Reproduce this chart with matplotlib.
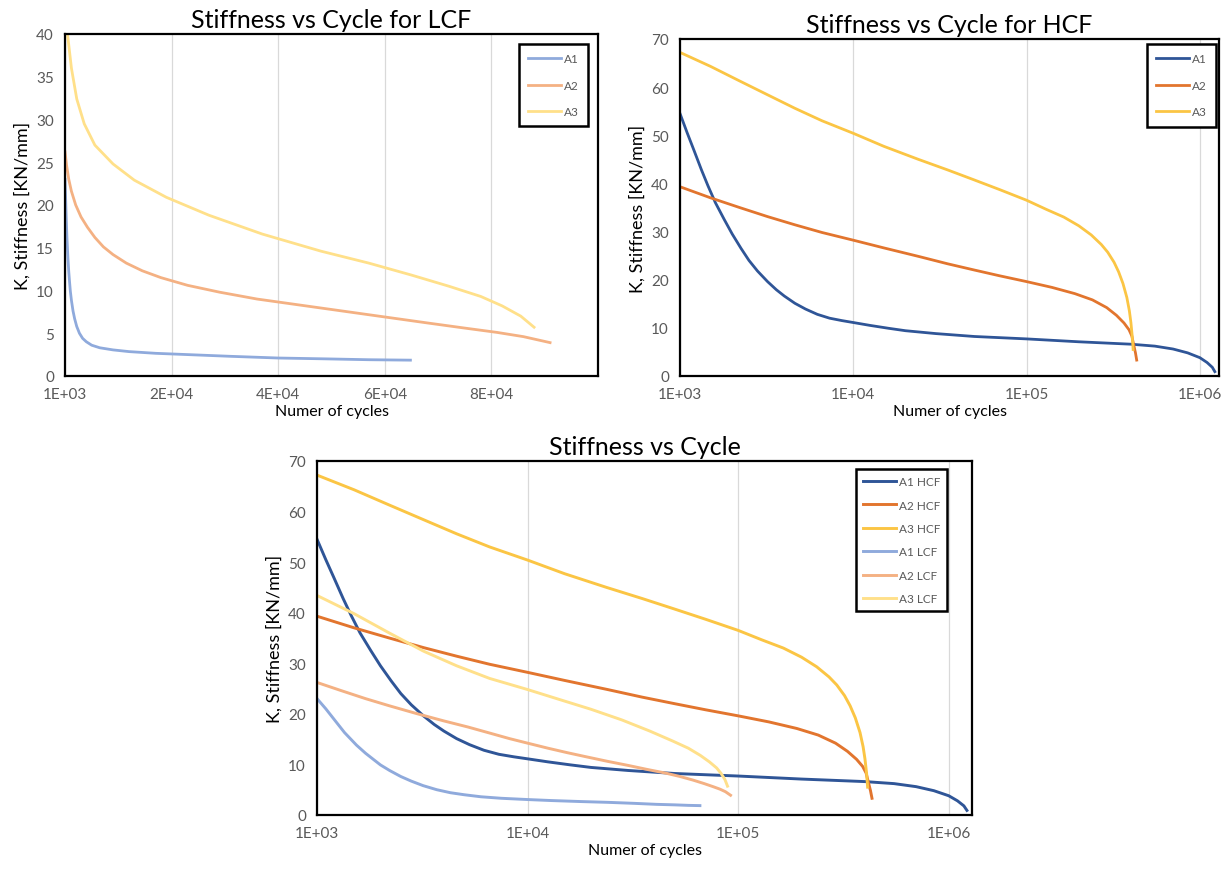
import matplotlib
matplotlib.use("Agg")
import matplotlib.pyplot as plt
from matplotlib.ticker import NullLocator

plt.rcParams['font.family'] = ['Lato', 'DejaVu Sans']

# --- LCF data (cycles, stiffness KN/mm) ---
lcf_a1_n = [1000, 1100, 1200, 1350, 1540, 1700, 1850, 2000, 2210, 2500, 2800, 3190, 3700, 4300, 5000,
            6000, 7500, 10000, 13000, 18000, 24000, 32000, 41000, 50000, 58000, 65800]
lcf_a1_k = [23.0, 21.0, 19.0, 16.3, 13.8, 12.2, 11.0, 9.9, 8.8, 7.6, 6.7, 5.8, 5.0, 4.4, 4.0,
            3.6, 3.3, 3.05, 2.85, 2.65, 2.5, 2.3, 2.1, 2.0, 1.9, 1.85]

lcf_a2_n = [1000, 1300, 1700, 2200, 3000, 4000, 5200, 6600, 8200, 10000, 12500, 15500, 19000, 24000,
            30000, 37000, 45000, 53000, 61000, 69000, 76000, 82000, 87000, 92000]
lcf_a2_k = [26.2, 24.6, 23.0, 21.6, 20.0, 18.6, 17.4, 16.2, 15.1, 14.2, 13.2, 12.3, 11.5, 10.6,
            9.8, 9.0, 8.3, 7.6, 6.9, 6.2, 5.6, 5.1, 4.6, 3.9]

lcf_a3_n = [1000, 1500, 2200, 3200, 4600, 6600, 10000, 14000, 20000, 28000, 38000, 49000, 58000,
            66000, 73000, 79000, 83000, 86500, 89000]
lcf_a3_k = [43.4, 39.8, 36.0, 32.4, 29.5, 27.0, 24.8, 22.9, 20.9, 18.8, 16.6, 14.6, 13.2,
            11.8, 10.5, 9.3, 8.2, 7.0, 5.7]

# --- HCF data ---
hcf_a1_n = [1000, 1100, 1200, 1330, 1450, 1600, 1800, 2000, 2250, 2500, 2800, 3200, 3600, 4000,
            4600, 5300, 6200, 7300, 8600, 10000, 12500, 16000, 20000, 30000, 50000, 100000,
            200000, 400000, 550000, 700000, 850000, 1000000, 1100000, 1180000, 1220000]
hcf_a1_k = [54.5, 50.5, 47.0, 42.8, 39.5, 36.0, 32.5, 29.5, 26.5, 24.0, 21.8, 19.6, 17.9, 16.6,
            15.1, 13.9, 12.8, 12.0, 11.5, 11.1, 10.5, 9.9, 9.4, 8.8, 8.2, 7.7,
            7.1, 6.6, 6.2, 5.6, 4.8, 3.8, 2.8, 1.8, 0.9]

hcf_a2_n = [1000, 1500, 2200, 3200, 4600, 6600, 10000, 15000, 24000, 35000, 50000, 70000, 100000,
            140000, 190000, 240000, 290000, 330000, 365000, 390000, 405000, 415000, 425000, 432000]
hcf_a2_k = [39.3, 37.0, 35.0, 33.1, 31.4, 29.8, 28.2, 26.6, 24.8, 23.3, 22.0, 20.8, 19.6,
            18.4, 17.1, 15.8, 14.2, 12.6, 11.0, 9.6, 8.3, 6.5, 4.8, 3.3]

hcf_a3_n = [1000, 1500, 2200, 3200, 4600, 6600, 10000, 15000, 23700, 35000, 49200, 70000, 100000,
            130000, 164000, 200000, 236000, 270000, 294000, 320000, 340000, 360000, 379000,
            392000, 400000, 407000, 412000]
hcf_a3_k = [67.2, 64.3, 61.3, 58.4, 55.6, 53.0, 50.4, 47.7, 45.0, 42.8, 40.8, 38.7, 36.5,
            34.6, 33.0, 31.2, 29.3, 27.3, 25.7, 23.6, 21.6, 19.2, 16.3,
            13.5, 11.1, 8.3, 5.5]

lcf_labels = ['A1', 'A2', 'A3']
all_labels = ['A1 HCF', 'A2 HCF', 'A3 HCF', 'A1 LCF', 'A2 LCF', 'A3 LCF']

hcf_colors = ['#2F5597', '#E2752E', '#FBC544']
lcf_colors = ['#8FAADC', '#F4B183', '#FFE08A']

lin_ticks = [1000, 21000, 41000, 61000, 81000]
log_ticks = [1e3, 1e4, 1e5, 1e6]

gray = '#595959'


def style_axes(ax, title, ymax, ystep, xticks):
    ax.set_title(title, fontsize=18, pad=5)
    ax.set_ylim(0, ymax)
    ax.set_yticks(range(0, ymax + 1, ystep))
    ax.set_xticks(xticks)
    ax.set_xticklabels(['{:.0E}'.format(v) for v in xticks])
    ax.tick_params(length=0, labelsize=11, labelcolor=gray, pad=8)
    ax.set_xlabel('Numer of cycles', fontsize=11.5, labelpad=2)
    ax.set_ylabel('K, Stiffness [KN/mm]', fontsize=13, labelpad=4)
    ax.grid(axis='x', color='#D9D9D9', lw=0.9)
    ax.set_axisbelow(True)
    for s in ax.spines.values():
        s.set_linewidth(1.6)
        s.set_color('black')


def legend(ax, x, y, spacing, pad):
    leg = ax.legend(loc='upper right', bbox_to_anchor=(x, y), borderaxespad=0, fontsize=8.5,
                    handlelength=2.8, handletextpad=0.2, labelspacing=spacing,
                    fancybox=False, edgecolor='black', framealpha=1, borderpad=pad)
    leg.get_frame().set_linewidth(1.8)
    for t in leg.get_texts():
        t.set_color(gray)


fig = plt.figure(figsize=(12.27, 8.7), dpi=100)

# top left: LCF, linear axis
ax1 = fig.add_axes([0.0530, 0.5667, 0.4344, 0.3931])
lcf = [(lcf_a1_n, lcf_a1_k), (lcf_a2_n, lcf_a2_k), (lcf_a3_n, lcf_a3_k)]
for (n, k), c, lab in zip(lcf, lcf_colors, lcf_labels):
    ax1.plot(n, k, color=c, lw=2, label=lab)
ax1.set_xlim(1000, 101000)
style_axes(ax1, 'Stiffness vs Cycle for LCF', 40, 5, lin_ticks)
legend(ax1, 0.981, 0.971, 1.3, 0.8)

# top right: HCF, log axis
ax2 = fig.add_axes([0.5542, 0.5667, 0.4393, 0.3874])
hcf = [(hcf_a1_n, hcf_a1_k), (hcf_a2_n, hcf_a2_k), (hcf_a3_n, hcf_a3_k)]
for (n, k), c, lab in zip(hcf, hcf_colors, lcf_labels):
    ax2.plot(n, k, color=c, lw=2, label=lab)
ax2.set_xscale('log')
ax2.set_xlim(1000, 1.29e6)
ax2.xaxis.set_minor_locator(NullLocator())
style_axes(ax2, 'Stiffness vs Cycle for HCF', 70, 10, log_ticks)
legend(ax2, 0.994, 0.985, 1.3, 0.8)

# bottom: everything together
ax3 = fig.add_axes([0.2584, 0.0621, 0.5338, 0.4069])
for (n, k), c, lab in zip(hcf + lcf, hcf_colors + lcf_colors, all_labels):
    ax3.plot(n, k, color=c, lw=2.1, label=lab)
ax3.set_xscale('log')
ax3.set_xlim(1000, 1.29e6)
ax3.xaxis.set_minor_locator(NullLocator())
style_axes(ax3, 'Stiffness vs Cycle', 70, 10, log_ticks)
legend(ax3, 0.962, 0.977, 1.05, 0.6)

fig.savefig('out.png', dpi=100)
